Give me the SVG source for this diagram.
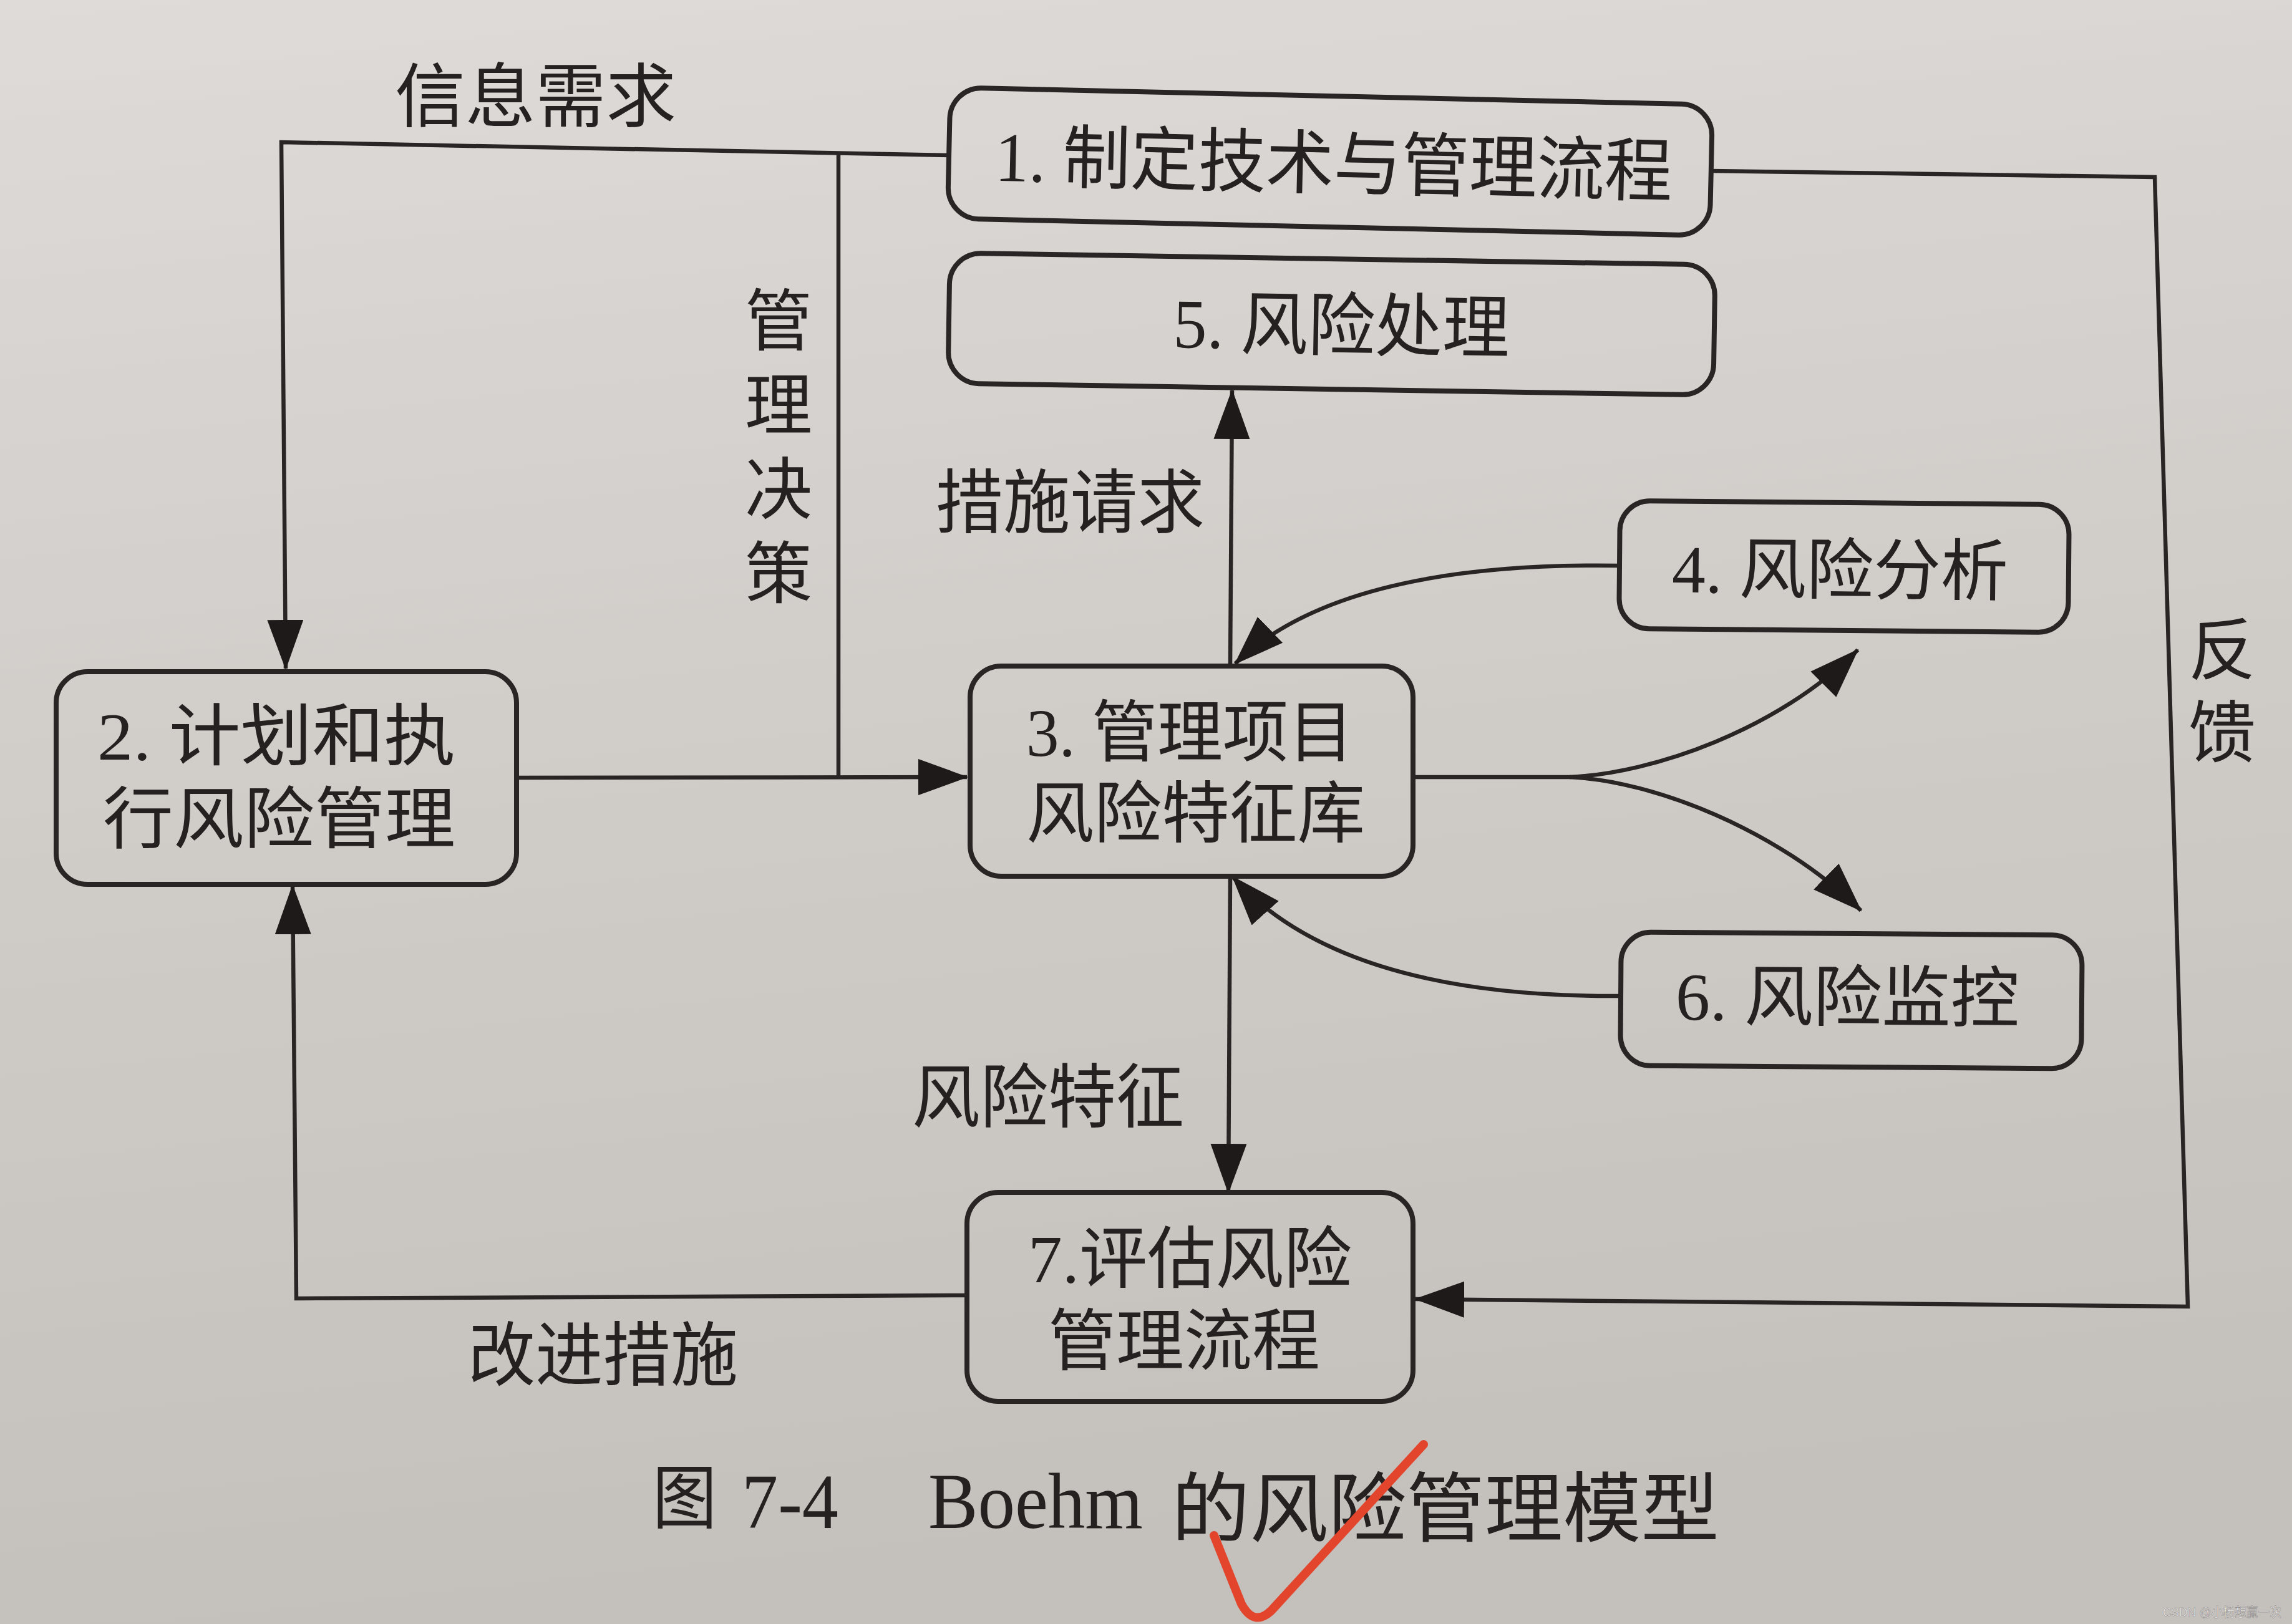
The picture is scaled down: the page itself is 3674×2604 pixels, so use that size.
<svg xmlns="http://www.w3.org/2000/svg" width="3674" height="2604" viewBox="0 0 3674 2604">
  <style>
    .box { fill: none; stroke: #2a2525; stroke-width: 8; }
    .wire { fill: none; stroke: #2a2525; stroke-width: 6.5; stroke-linejoin: miter; }
    .arrowed { marker-end: url(#head); }
    .t { font-family: "Liberation Serif", "Noto Sans CJK SC", serif; fill: #262121; }
    .cjk { font-family: "Noto Sans CJK SC", "Liberation Sans", sans-serif; fill: #262121; }
    .vert { writing-mode: tb; glyph-orientation-vertical: 0; }
    .mark { font-family: "Liberation Sans", "Noto Sans CJK SC", sans-serif; fill: #f4f4f4; }
  </style>
  <defs>
    <linearGradient id="paper" x1="0" y1="0" x2="0.15" y2="1">
      <stop offset="0" stop-color="#dedbd8"/>
      <stop offset="0.5" stop-color="#d0ccc8"/>
      <stop offset="1" stop-color="#c4c0bc"/>
    </linearGradient>
    <marker id="head" markerUnits="userSpaceOnUse" markerWidth="80" markerHeight="60" refX="78" refY="29" orient="auto">
      <path d="M0,0 L80,29 L0,58 Z" fill="#1e1a1a"/>
    </marker>
  </defs>

  <!-- page -->
  <rect x="0" y="0" width="3674" height="2604" fill="url(#paper)"/>

  <!-- connectors -->
  <g id="connectors">
    <!-- information needs: box 1 to box 2 -->
    <path class="wire arrowed" d="M1521,249 L451,228 L458,1072"/>
    <!-- management decisions -->
    <path class="wire" d="M1344,247 L1344,1246"/>
    <!-- box 2 to box 3 -->
    <path class="wire arrowed" d="M828,1247 L1550,1246"/>
    <!-- action requests: box 3 up to box 5 -->
    <path class="wire arrowed" d="M1972,1068 L1975,626"/>
    <!-- risk analysis back into box 3 -->
    <path class="wire arrowed" d="M2596,907 Q2150,900 1980,1064"/>
    <!-- box 3 out to analysis and monitoring -->
    <path class="wire" d="M2263,1246 L2516,1246"/>
    <path class="wire arrowed" d="M2516,1246 C2650,1240 2850,1170 2978,1042"/>
    <path class="wire arrowed" d="M2516,1246 C2650,1252 2850,1330 2983,1460"/>
    <!-- monitoring back into box 3 -->
    <path class="wire arrowed" d="M2598,1597 Q2150,1600 1976,1406"/>
    <!-- risk characteristics: box 3 down to box 7 -->
    <path class="wire arrowed" d="M1972,1405 L1969,1912"/>
    <!-- feedback loop -->
    <path class="wire arrowed" d="M2743,274 L3454,284 L3507,2095 L2269,2083"/>
    <!-- improvement actions: box 7 back to box 2 -->
    <path class="wire arrowed" d="M1550,2077 L475,2082 L469,1420"/>
  </g>

  <!-- nodes -->
  <g id="node-1" transform="rotate(1.3 2132 259)">
    <rect class="box" x="1521" y="154" width="1222" height="210" rx="50"/>
    <text class="t" x="1595" y="302" font-size="112" textLength="1086" lengthAdjust="spacingAndGlyphs">1. 制定技术与管理流程</text>
  </g>
  <g id="node-5" transform="rotate(0.9 2134 519)">
    <rect class="box" x="1521" y="415" width="1227" height="209" rx="50"/>
    <text class="t" x="1881" y="561" font-size="112" textLength="539" lengthAdjust="spacingAndGlyphs">5. 风险处理</text>
  </g>
  <g id="node-4" transform="rotate(0.5 2956 908)">
    <rect class="box" x="2596" y="806" width="720" height="205" rx="48"/>
    <text class="t" x="2680" y="952" font-size="108" textLength="539" lengthAdjust="spacingAndGlyphs">4. 风险分析</text>
  </g>
  <g id="node-2">
    <rect class="box" x="90" y="1077" width="738" height="341" rx="50"/>
    <text class="t" x="156" y="1218" font-size="108" textLength="574" lengthAdjust="spacingAndGlyphs">2. 计划和执</text>
    <text class="t" x="165" y="1351" font-size="108" textLength="565" lengthAdjust="spacingAndGlyphs">行风险管理</text>
  </g>
  <g id="node-3">
    <rect class="box" x="1555" y="1068" width="710" height="337" rx="50"/>
    <text class="t" x="1645" y="1212" font-size="108" textLength="525" lengthAdjust="spacingAndGlyphs">3. 管理项目</text>
    <text class="t" x="1645" y="1342" font-size="108" textLength="543" lengthAdjust="spacingAndGlyphs">风险特征库</text>
  </g>
  <g id="node-6" transform="rotate(0.4 2968 1604)">
    <rect class="box" x="2598" y="1497" width="739" height="214" rx="48"/>
    <text class="t" x="2686" y="1637" font-size="108" textLength="551" lengthAdjust="spacingAndGlyphs">6. 风险监控</text>
  </g>
  <g id="node-7">
    <rect class="box" x="1550" y="1912" width="715" height="335" rx="50"/>
    <text class="t" x="1648" y="2056" font-size="108" textLength="519" lengthAdjust="spacingAndGlyphs">7.评估风险</text>
    <text class="t" x="1680" y="2188" font-size="108" textLength="436" lengthAdjust="spacingAndGlyphs">管理流程</text>
  </g>

  <!-- connector labels -->
  <g id="labels">
    <text class="cjk" x="633" y="195" font-size="112" textLength="451" lengthAdjust="spacingAndGlyphs">信息需求</text>
    <text class="cjk vert" x="1248" y="458" font-size="108" letter-spacing="27">管理决策</text>
    <text class="cjk" x="1500" y="846" font-size="112" textLength="431" lengthAdjust="spacingAndGlyphs">措施请求</text>
    <text class="cjk vert" x="3562" y="986" font-size="108" letter-spacing="24">反馈</text>
    <text class="cjk" x="1462" y="1799" font-size="112" textLength="436" lengthAdjust="spacingAndGlyphs">风险特征</text>
    <text class="cjk" x="750" y="2213" font-size="112" textLength="433" lengthAdjust="spacingAndGlyphs">改进措施</text>
  </g>

  <!-- figure caption -->
  <g id="caption">
    <text class="cjk" x="1046" y="2442" font-size="112" textLength="103" lengthAdjust="spacingAndGlyphs">图</text>
    <text class="t" x="1189" y="2450" font-size="125" textLength="155" lengthAdjust="spacingAndGlyphs">7-4</text>
    <text class="t" x="1488" y="2450" font-size="128" textLength="344" lengthAdjust="spacingAndGlyphs">Boehm</text>
    <text class="cjk" x="1878" y="2462" font-size="122" textLength="878" lengthAdjust="spacingAndGlyphs">的风险管理模型</text>
  </g>

  <!-- red tick pen mark -->
  <path d="M1946,2462 L1990,2572 Q2012,2612 2042,2578 L2282,2316" fill="none" stroke="#e2452c" stroke-width="14" stroke-linecap="round" stroke-linejoin="round"/>

  <!-- watermark -->
  <text class="mark" x="3467" y="2592" font-size="21" textLength="190" lengthAdjust="spacingAndGlyphs" stroke="#8a8684" stroke-width="0.6">CSDN @小杨想赢一次</text>
</svg>
